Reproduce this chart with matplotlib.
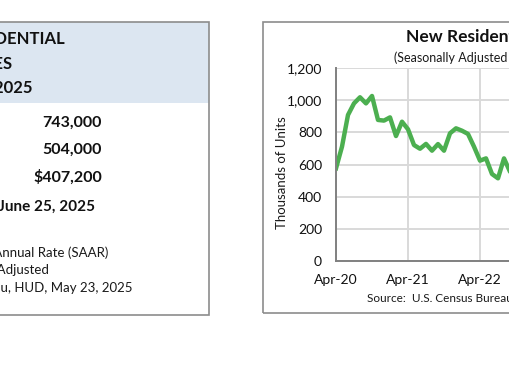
import matplotlib
matplotlib.use("Agg")
import matplotlib.pyplot as plt
from matplotlib.patches import Rectangle

plt.rcParams['font.family'] = ['Lato', 'DejaVu Sans']

# monthly new residential sales (SAAR, thousands), starting Apr-20
sales = [576, 711, 908, 980, 1018, 980, 1026, 877, 873, 893, 777, 866,
         819, 721, 698, 728, 686, 727, 686, 794, 825, 810, 790, 711,
         624, 638, 541, 514, 638, 555, 575]
tick_months = [0, 12, 24]
tick_labels = ['Apr-20', 'Apr-21', 'Apr-22']
y_ticks = [0, 200, 400, 600, 800, 1000, 1200]

header_lines = ['NEW RESIDENTIAL', 'SALES', 'MAY 2025']
stat_values = ['743,000', '504,000', '$407,200']
next_release = 'Next Release: June 25, 2025'
notes = ['Seasonally Adjusted Annual Rate (SAAR)',
         'Not Seasonally Adjusted',
         'Source: Census Bureau, HUD, May 23, 2025']

W, H = 510, 382
fig = plt.figure(figsize=(W / 100, H / 100), dpi=100)


def fx(x):
    return x / W


def fy(y):
    return 1 - y / H


def box(x0, y0, x1, y1, **kw):
    fig.patches.append(Rectangle((fx(x0), fy(y1)), fx(x1) - fx(x0), fy(y0) - fy(y1),
                                 transform=fig.transFigure, **kw))


# ---- left summary panel ----
box(-5, 22, 209, 103, facecolor='#DCE6F1', edgecolor='none')
box(-5, 22, 209, 315, facecolor='none', edgecolor='#8C8C8C', lw=1.2)

for txt, x, y in zip(header_lines, [65, 13, 33], [39, 64, 88]):
    fig.text(fx(x), fy(y), txt, ha='right', va='center', fontsize=12,
             fontweight='bold', color='#111111')

for txt, y in zip(stat_values, [123, 150, 177]):
    fig.text(fx(102), fy(y), txt, ha='right', va='center', fontsize=11.5,
             fontweight='bold', color='#111111')
fig.text(fx(95), fy(207), next_release, ha='right', va='center', fontsize=11,
         fontweight='bold', color='#111111')

for txt, x, y in zip(notes, [108, 49, 132], [253, 270, 288]):
    fig.text(fx(x), fy(y), txt, ha='right', va='center', fontsize=9.5,
             color='#1A1A1A')

# ---- right chart panel ----
box(263, 22, 530, 313, facecolor='none', edgecolor='#8C8C8C', lw=1.2)

fig.text(fx(406), fy(37), 'New Residential Sales', ha='left', va='center',
         fontsize=12.5, fontweight='bold', color='#111111')
fig.text(fx(394), fy(58), '(Seasonally Adjusted Annual Rate)', ha='left',
         va='center', fontsize=9, color='#1A1A1A')
fig.text(fx(367), fy(298), 'Source:  U.S. Census Bureau, HUD', ha='left',
         va='center', fontsize=8.5, color='#1A1A1A')
fig.text(fx(282), fy(173), 'Thousands of Units', ha='center', va='center',
         rotation=90, fontsize=9.5, color='#1A1A1A')

ax = fig.add_axes([fx(336), fy(261), 360 / W, 193 / H])
ax.plot(range(len(sales)), sales, color='#4CAF50', lw=3.2, solid_joinstyle='round')
ax.set_xlim(0, 60)
ax.set_ylim(0, 1200)
ax.set_xticks(tick_months)
ax.set_xticklabels(tick_labels)
ax.set_xticks([36, 48], minor=True)
ax.set_yticks(y_ticks)
ax.set_yticklabels([f'{v:,}' for v in y_ticks])
ax.tick_params(which='both', length=0, labelsize=10, colors='#111111')
ax.tick_params(axis='y', pad=10)
ax.tick_params(axis='x', pad=9)
ax.grid(True, which='both', color='#D9D9D9', lw=1.4)
ax.set_axisbelow(True)
for side in ['top', 'right']:
    ax.spines[side].set_visible(False)
for side in ['left', 'bottom']:
    ax.spines[side].set_color('#808080')
    ax.spines[side].set_linewidth(1.4)

fig.savefig('out.png', dpi=100)
